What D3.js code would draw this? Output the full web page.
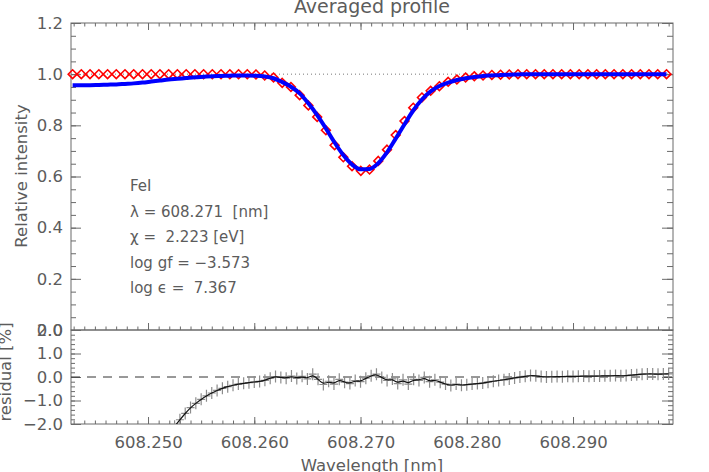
<!DOCTYPE html>
<html><head><meta charset="utf-8">
<script src="https://cdn.jsdelivr.net/npm/d3@7"></script>
<style>
html,body{margin:0;padding:0;background:#fff;}
svg{display:block;}
text{font-family:"DejaVu Sans",sans-serif;fill:#5c5c5c;white-space:pre;}
</style></head>
<body>
<svg id="chart" width="709" height="472"></svg>
<script>
// ---- data ----
const wavelength = [608.24290,608.24372,608.24454,608.24537,608.24619,608.24701,608.24783,608.24865,608.24948,608.25030,
608.25112,608.25194,608.25276,608.25359,608.25441,608.25523,608.25605,608.25687,608.25770,608.25852,
608.25934,608.26016,608.26098,608.26181,608.26263,608.26345,608.26427,608.26509,608.26592,608.26674,
608.26756,608.26838,608.26920,608.27003,608.27085,608.27167,608.27249,608.27331,608.27414,608.27496,
608.27578,608.27660,608.27742,608.27825,608.27907,608.27989,608.28071,608.28153,608.28236,608.28318,
608.28400,608.28482,608.28564,608.28647,608.28729,608.28811,608.28893,608.28975,608.29058,608.29140,
608.29222,608.29304,608.29386,608.29469,608.29551,608.29633,608.29715,608.29797,608.29880];
const synthetic = [1.000,1.000,1.000,1.000,1.000,1.000,1.000,1.000,1.000,1.000,
1.000,1.000,1.000,1.000,1.000,1.000,1.000,1.000,1.000,1.000,
1.000,0.999,0.995,0.987,0.966,0.950,0.918,0.878,0.833,0.781,
0.722,0.675,0.640,0.622,0.627,0.661,0.705,0.762,0.817,0.869,
0.909,0.935,0.953,0.970,0.979,0.987,0.992,0.995,0.997,0.998,
0.999,1.000,1.000,1.000,1.000,1.000,1.000,1.000,1.000,1.000,
1.000,1.000,1.000,1.000,1.000,1.000,1.000,1.000,1.000];
const observed = [0.957,0.957,0.957,0.958,0.959,0.960,0.962,0.964,0.967,0.971,
0.975,0.979,0.982,0.985,0.988,0.990,0.992,0.993,0.994,0.995,
0.995,0.994,0.991,0.984,0.969,0.951,0.925,0.886,0.840,0.788,
0.733,0.684,0.647,0.628,0.629,0.652,0.694,0.748,0.804,0.858,
0.901,0.933,0.954,0.967,0.977,0.984,0.989,0.993,0.995,0.997,
0.998,0.999,1.000,1.000,1.000,1.000,1.000,1.000,1.000,1.000,
1.000,1.000,1.000,1.000,1.000,1.000,1.000,1.000,1.000];
const residWave = [608.2525,608.2530,608.2535,608.2540,608.2545,608.2550,608.2555,608.2560,608.2565,608.2570,
608.2575,608.2580,608.2585,608.2590,608.2595,608.2600,608.2605,608.2610,608.2615,608.2620,
608.2625,608.2630,608.2635,608.2640,608.2645,608.2650,608.2655,608.2660,608.2665,608.2670,
608.2675,608.2680,608.2685,608.2690,608.2695,608.2700,608.2705,608.2710,608.2715,608.2720,
608.2725,608.2730,608.2735,608.2740,608.2745,608.2750,608.2755,608.2760,608.2765,608.2770,
608.2775,608.2780,608.2785,608.2790,608.2795,608.2800,608.2805,608.2810,608.2815,608.2820,
608.2825,608.2830,608.2835,608.2840,608.2845,608.2850,608.2855,608.2860,608.2865,608.2870,
608.2875,608.2880,608.2885,608.2890,608.2895,608.2900,608.2905,608.2910,608.2915,608.2920,
608.2925,608.2930,608.2935,608.2940,608.2945,608.2950,608.2955,608.2960,608.2965,608.2970,
608.2975,608.2980,608.2985,608.2990];
const residual = [-2.10,-1.82,-1.55,-1.30,-1.12,-0.95,-0.80,-0.68,-0.57,-0.48,
-0.41,-0.35,-0.30,-0.27,-0.24,-0.21,-0.19,-0.14,-0.05,0.02,
-0.02,-0.05,0.04,-0.06,0.03,-0.08,0.12,-0.10,-0.32,-0.18,
-0.30,-0.10,-0.22,-0.28,-0.15,-0.20,-0.05,0.05,0.12,-0.02,
-0.15,-0.08,-0.28,-0.12,-0.30,-0.10,-0.15,-0.02,-0.20,-0.12,
-0.22,-0.30,-0.36,-0.30,-0.35,-0.33,-0.30,-0.28,-0.26,-0.22,
-0.18,-0.15,-0.12,-0.08,-0.04,0.00,0.03,0.06,0.05,0.02,
0.00,0.01,0.02,0.01,0.03,0.02,0.03,0.04,0.03,0.04,
0.04,0.05,0.05,0.06,0.05,0.06,0.08,0.10,0.12,0.13,
0.13,0.12,0.13,0.13];
const xTicks = [608.250,608.260,608.270,608.280,608.290];
const yTicks = [0.0,0.2,0.4,0.6,0.8,1.0,1.2];
const rTicks = [-2.0,-1.0,0.0,1.0,2.0];
const infoLines = ["FeI","λ = 608.271  [nm]","χ =  2.223 [eV]","log gf = \u22123.573","log \u03f5 =  7.367"];
const titleText = "Averaged profile";
const yLabel = "Relative intensity";
const rLabel = "residual [%]";
const xLabel = "Wavelength [nm]";

// ---- layout ----
const L = 71, R = 673, T = 23, MID = 330, B = 424;
const svg = d3.select("#chart");
const x = d3.scaleLinear().domain([608.24275, 608.29941]).range([L, R]);
const y = d3.scaleLinear().domain([0, 1.2]).range([MID, T]);
const yr = d3.scaleLinear().domain([-2, 2]).range([B, MID]);
const axisCol = "#6a6a6a";
const fs = 16.5;

function styleAxis(g){
  g.select(".domain").remove();
  g.selectAll("line").attr("stroke", axisCol);
  g.selectAll("text").attr("font-size", fs).attr("fill", "#5c5c5c").attr("font-family","DejaVu Sans");
}
const xMinor = d3.range(608.243, 608.2995, 0.001);
const yMinor = d3.range(0, 1.2001, 0.05);
const rMinor = d3.range(-2, 2.0001, 0.2);

// top panel x ticks (top edge & bottom edge)
svg.append("g").attr("transform",`translate(0,${T})`).call(d3.axisTop(x).tickValues(xTicks).tickSize(-7).tickSizeOuter(0).tickFormat("")).call(styleAxis);
svg.append("g").attr("transform",`translate(0,${T})`).call(d3.axisTop(x).tickValues(xMinor).tickSize(-3.5).tickSizeOuter(0).tickFormat("")).call(styleAxis);
svg.append("g").attr("transform",`translate(0,${MID})`).call(d3.axisBottom(x).tickValues(xTicks).tickSize(-7).tickSizeOuter(0).tickFormat("")).call(styleAxis);
svg.append("g").attr("transform",`translate(0,${MID})`).call(d3.axisBottom(x).tickValues(xMinor).tickSize(-3.5).tickSizeOuter(0).tickFormat("")).call(styleAxis);
// top panel y
svg.append("g").attr("transform",`translate(${L},0)`).call(d3.axisLeft(y).tickValues(yTicks).tickSize(-10).tickPadding(8).tickSizeOuter(0).tickFormat(d3.format(".1f"))).call(styleAxis);
svg.append("g").attr("transform",`translate(${L},0)`).call(d3.axisLeft(y).tickValues(yMinor).tickSize(-5).tickSizeOuter(0).tickFormat("")).call(styleAxis);
svg.append("g").attr("transform",`translate(${R},0)`).call(d3.axisRight(y).tickValues(yTicks).tickSize(-11).tickSizeOuter(0).tickFormat("")).call(styleAxis);
svg.append("g").attr("transform",`translate(${R},0)`).call(d3.axisRight(y).tickValues(yMinor).tickSize(-6).tickSizeOuter(0).tickFormat("")).call(styleAxis);
// residual panel
svg.append("g").attr("transform",`translate(0,${B})`).call(d3.axisBottom(x).tickValues(xTicks).tickSize(-7).tickPadding(12).tickSizeOuter(0).tickFormat(d3.format(".3f"))).call(styleAxis);
svg.append("g").attr("transform",`translate(0,${B})`).call(d3.axisBottom(x).tickValues(xMinor).tickSize(-3.5).tickSizeOuter(0).tickFormat("")).call(styleAxis);
svg.append("g").attr("transform",`translate(${L},0)`).call(d3.axisLeft(yr).tickValues(rTicks).tickSize(-10).tickPadding(8).tickSizeOuter(0).tickFormat(d3.format(".1f"))).call(styleAxis);
svg.append("g").attr("transform",`translate(${L},0)`).call(d3.axisLeft(yr).tickValues(rMinor).tickSize(-4).tickSizeOuter(0).tickFormat("")).call(styleAxis);
svg.append("g").attr("transform",`translate(${R},0)`).call(d3.axisRight(yr).tickValues(rTicks).tickSize(-11).tickSizeOuter(0).tickFormat("")).call(styleAxis);
svg.append("g").attr("transform",`translate(${R},0)`).call(d3.axisRight(yr).tickValues(rMinor).tickSize(-5).tickSizeOuter(0).tickFormat("")).call(styleAxis);

// frames
svg.append("rect").attr("x",L).attr("y",T).attr("width",R-L).attr("height",MID-T).attr("fill","none").attr("stroke",axisCol).attr("stroke-width",1);
svg.append("rect").attr("x",L).attr("y",MID).attr("width",R-L).attr("height",B-MID).attr("fill","none").attr("stroke",axisCol).attr("stroke-width",1);

// reference line at 1.0
svg.append("line").attr("x1",L).attr("x2",R).attr("y1",y(1)).attr("y2",y(1))
  .attr("stroke","#777").attr("stroke-width",1).attr("stroke-dasharray","1,3");

// diamonds (synthetic)
const dpath = "M0,-4.4L4.4,0L0,4.4L-4.4,0Z";
svg.append("g").selectAll("path").data(wavelength).join("path")
  .attr("d", dpath)
  .attr("transform",(d,i)=>`translate(${x(d)},${y(synthetic[i])})`)
  .attr("fill","none").attr("stroke","#ff0000").attr("stroke-width",1.6);

// observed line
svg.append("path").datum(wavelength.map((w,i)=>[w,observed[i]]))
  .attr("fill","none").attr("stroke","#0000ff").attr("stroke-width",4).attr("stroke-linejoin","round")
  .attr("d", d3.line().x(d=>x(d[0])).y(d=>y(d[1])).curve(d3.curveMonotoneX));

// residual
svg.append("defs").append("clipPath").attr("id","rclip").append("rect")
  .attr("x",L).attr("y",MID).attr("width",R-L).attr("height",B-MID);
const rg = svg.append("g").attr("clip-path","url(#rclip)");
rg.append("line").attr("x1",L).attr("x2",R).attr("y1",yr(0)).attr("y2",yr(0))
  .attr("stroke","#333").attr("stroke-width",1).attr("stroke-dasharray","9,7");
rg.append("g").selectAll("path").data(residWave).join("path")
  .attr("d","M-4,0H4M0,-6V6")
  .attr("transform",(d,i)=>`translate(${x(d)},${yr(residual[i])})`)
  .attr("stroke","#8c8c8c").attr("stroke-width",1.2).attr("fill","none");
rg.append("path").datum(residWave.map((w,i)=>[w,residual[i]]))
  .attr("fill","none").attr("stroke","#111").attr("stroke-width",1.2)
  .attr("d", d3.line().x(d=>x(d[0])).y(d=>yr(d[1])).curve(d3.curveBasis));

// info text
svg.append("g").selectAll("text").data(infoLines).join("text")
  .attr("x",130).attr("y",(d,i)=>191+i*25.5)
  .attr("font-size",15).text(d=>d);

// titles
svg.append("text").attr("x",372).attr("y",13).attr("text-anchor","middle").attr("font-size",19).text(titleText);
svg.append("text").attr("transform",`translate(27,176) rotate(-90)`).attr("text-anchor","middle").attr("font-size",fs).text(yLabel);
svg.append("text").attr("transform",`translate(11,372) rotate(-90)`).attr("text-anchor","middle").attr("font-size",fs).text(rLabel);
svg.append("text").attr("x",372).attr("y",471).attr("text-anchor","middle").attr("font-size",fs).text(xLabel);
</script>
</body></html>
